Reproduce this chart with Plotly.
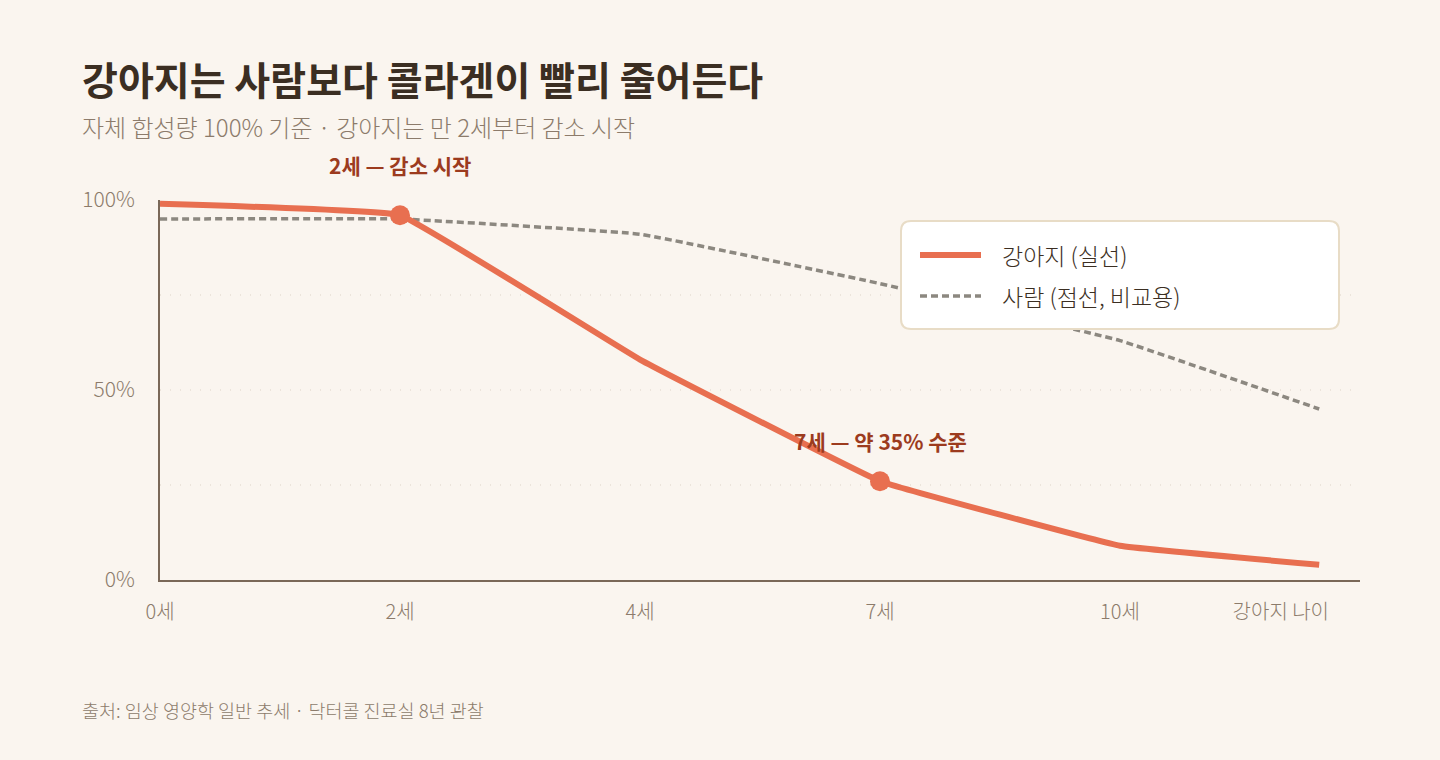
import plotly.graph_objects as go

# ---- data ----
x_pos = [0, 1, 2, 3, 4, 4.83]
tick_vals = [0, 1, 2, 3, 4, 4.67]
tick_text = ["0세", "2세", "4세", "7세", "10세", "강아지 나이"]
dog = [99, 96, 58, 26, 9, 4]
human = [95, 95, 91, 78, 63, 45]
highlight_idx = [1, 3]
highlight_labels = ["2세 — 감소 시작", "7세 — 약 35% 수준"]
highlight_shift = [50, 40]
legend_names = ["강아지 (실선)", "사람 (점선, 비교용)"]

BG = "#faf5ef"
DOG = "#e86f50"
HUM = "#8c8880"
AX = "#7a6858"
TXT = "#3b2e22"
SUB = "#8c7b6b"
ANN = "#9c3b1e"
FONT = "Noto Sans CJK KR"

fig = go.Figure()
fig.add_trace(go.Scatter(
    x=x_pos, y=human, mode="lines", name=legend_names[1],
    line=dict(color=HUM, width=3.5, dash="7px,4px", shape="spline", smoothing=0.25),
    cliponaxis=False, showlegend=False, hoverinfo="skip"))
fig.add_trace(go.Scatter(
    x=x_pos, y=dog, mode="lines", name=legend_names[0],
    line=dict(color=DOG, width=6, shape="spline", smoothing=0.2),
    cliponaxis=False, showlegend=False, hoverinfo="skip"))
fig.add_trace(go.Scatter(
    x=[x_pos[i] for i in highlight_idx], y=[dog[i] for i in highlight_idx],
    mode="markers", marker=dict(color=DOG, size=20),
    cliponaxis=False, showlegend=False, hoverinfo="skip"))

for i, lab, sh in zip(highlight_idx, highlight_labels, highlight_shift):
    fig.add_annotation(x=x_pos[i], y=dog[i], text=f"<b>{lab}</b>", showarrow=False,
                       yshift=sh, font=dict(family=FONT, size=21, color=ANN))

# title, subtitle, source
fig.add_annotation(xref="paper", yref="paper", x=-80/1200, y=(580-78)/380,
                   xanchor="left", yanchor="middle", showarrow=False,
                   text="<b>강아지는 사람보다 콜라겐이 빨리 줄어든다</b>",
                   font=dict(family=FONT, size=39, color=TXT))
fig.add_annotation(xref="paper", yref="paper", x=-80/1200, y=(580-127)/380,
                   xanchor="left", yanchor="middle", showarrow=False,
                   text="자체 합성량 100% 기준 · 강아지는 만 2세부터 감소 시작",
                   font=dict(family=FONT, size=24, color=SUB, weight=300))
fig.add_annotation(xref="paper", yref="paper", x=-80/1200, y=(580-710)/380,
                   xanchor="left", yanchor="middle", showarrow=False,
                   text="출처: 임상 영양학 일반 추세 · 닥터콜 진료실 8년 관찰",
                   font=dict(family=FONT, size=18.5, color=SUB, weight=300))

# legend box (rounded)
def px(xp):
    return (xp - 160) / 1200
def py(yp):
    return (580 - yp) / 380
x0, x1, y0, y1, r = 901, 1339, 221, 329, 10
path = (f"M {px(x0+r)},{py(y0)} L {px(x1-r)},{py(y0)} Q {px(x1)},{py(y0)} {px(x1)},{py(y0+r)} "
        f"L {px(x1)},{py(y1-r)} Q {px(x1)},{py(y1)} {px(x1-r)},{py(y1)} "
        f"L {px(x0+r)},{py(y1)} Q {px(x0)},{py(y1)} {px(x0)},{py(y1-r)} "
        f"L {px(x0)},{py(y0+r)} Q {px(x0)},{py(y0)} {px(x0+r)},{py(y0)} Z")
fig.add_shape(type="path", path=path, xref="paper", yref="paper", layer="above",
              fillcolor="#ffffff", line=dict(color="#e8dcc6", width=2))
fig.add_shape(type="line", xref="paper", yref="paper", layer="above",
              x0=px(920), x1=px(981), y0=py(255), y1=py(255),
              line=dict(color=DOG, width=6))
fig.add_shape(type="line", xref="paper", yref="paper", layer="above",
              x0=px(920), x1=px(981), y0=py(296), y1=py(296),
              line=dict(color=HUM, width=3.5, dash="7px,4px"))
for name, yy in zip(legend_names, [255, 296]):
    fig.add_annotation(xref="paper", yref="paper", x=px(1000), y=py(yy),
                       xanchor="left", yanchor="middle", showarrow=False, text=name,
                       font=dict(family=FONT, size=23, color=TXT, weight=300))

fig.update_layout(
    width=1440, height=760,
    margin=dict(l=160, r=80, t=200, b=180),
    paper_bgcolor=BG, plot_bgcolor=BG,
    font=dict(family=FONT, color=SUB),
    xaxis=dict(range=[0, 5], tickvals=tick_vals, ticktext=tick_text,
               showgrid=False, zeroline=False, showline=True, linecolor=AX, linewidth=2,
               ticks="", ticklabelstandoff=13, tickfont=dict(size=20, color=SUB, weight=300)),
    yaxis=dict(range=[0, 100], tickvals=[0, 50, 100], ticktext=["0%", "50%", "100%"],
               showgrid=False, zeroline=False, showline=True, linecolor=AX, linewidth=2,
               ticks="", ticklabelstandoff=19, tickfont=dict(size=21, color=SUB, weight=300)),
)
for g in [25, 50, 75]:
    fig.add_shape(type="line", xref="paper", yref="y", x0=0, x1=1, y0=g, y1=g,
                  layer="below", line=dict(color="#ddd3c7", width=1, dash="1px,9px"))

fig.write_html("out.html")
